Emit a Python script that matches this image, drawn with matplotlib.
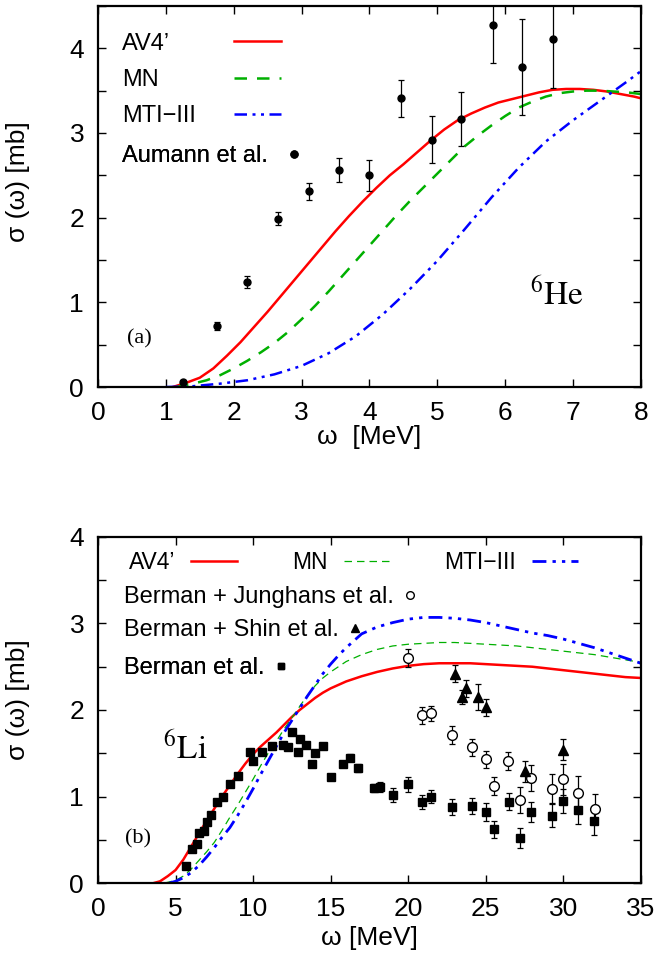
import matplotlib
matplotlib.use("Agg")
import matplotlib.pyplot as plt
from matplotlib.ticker import MultipleLocator
from matplotlib.lines import Line2D

plt.rcParams['font.family'] = ['Liberation Sans', 'DejaVu Sans']
plt.rcParams['mathtext.fontset'] = 'stix'

# ---------------- Panel (a): 6He ----------------
he_av4_x = [1.1, 1.3, 1.5, 1.7, 1.9, 2.1, 2.3, 2.5, 2.7, 2.9, 3.1, 3.3, 3.5, 3.7, 3.9, 4.1, 4.3, 4.5,
            4.7, 4.9, 5.1, 5.3, 5.5, 5.7, 5.9, 6.1, 6.3, 6.5, 6.7, 6.9, 7.1, 7.3, 7.5, 7.7, 7.9, 8.0]
he_av4_y = [0.0, 0.05, 0.11, 0.22, 0.37, 0.53, 0.71, 0.89, 1.08, 1.27, 1.46, 1.65, 1.84, 2.02, 2.19, 2.35, 2.50, 2.63,
            2.77, 2.91, 3.04, 3.15, 3.23, 3.30, 3.36, 3.40, 3.44, 3.48, 3.51, 3.52, 3.52, 3.51, 3.49, 3.46, 3.43, 3.41]
he_mn_x = [1.15, 1.4, 1.6, 1.8, 2.0, 2.2, 2.4, 2.6, 2.8, 3.0, 3.2, 3.4, 3.6, 3.8, 4.0, 4.2, 4.4, 4.6,
           4.8, 5.0, 5.2, 5.4, 5.6, 5.8, 6.0, 6.2, 6.4, 6.6, 6.8, 7.0, 7.2, 7.4, 7.6, 7.8, 8.0]
he_mn_y = [0.0, 0.04, 0.08, 0.14, 0.22, 0.31, 0.41, 0.52, 0.65, 0.80, 0.96, 1.13, 1.31, 1.49, 1.67, 1.85, 2.03, 2.20,
           2.36, 2.52, 2.68, 2.84, 2.97, 3.09, 3.20, 3.30, 3.37, 3.43, 3.47, 3.49, 3.50, 3.50, 3.49, 3.48, 3.46]
he_mti_x = [1.0, 1.4, 1.8, 2.2, 2.6, 3.0, 3.4, 3.8, 4.2, 4.6, 5.0, 5.4, 5.8, 6.2, 6.6, 7.0, 7.4, 7.8, 8.0]
he_mti_y = [0.0, 0.01, 0.04, 0.08, 0.15, 0.25, 0.40, 0.60, 0.86, 1.16, 1.49, 1.86, 2.24, 2.59, 2.90, 3.15, 3.38, 3.61, 3.73]

aumann_x = [1.25, 1.75, 2.19, 2.65, 3.11, 3.55, 4.0, 4.46, 4.92, 5.35, 5.82, 6.25, 6.70]
aumann_y = [0.06, 0.72, 1.24, 1.99, 2.31, 2.56, 2.50, 3.41, 2.92, 3.17, 4.27, 3.78, 4.11]
aumann_e = [0.02, 0.05, 0.07, 0.08, 0.10, 0.14, 0.18, 0.22, 0.28, 0.32, 0.44, 0.57, 0.58]

# ---------------- Panel (b): 6Li ----------------
li_av4_x = [3.6, 4.0, 4.5, 5.0, 5.5, 6.0, 6.5, 7.0, 7.5, 8.0, 8.5, 9.0, 9.5, 10.0, 10.5, 11.0, 11.5, 12.0,
            12.5, 13.0, 13.5, 14.0, 14.5, 15.0, 16.0, 17.0, 18.0, 19.0, 20.0, 21.0, 22.0, 23.0, 24.0, 25.0,
            26.0, 27.0, 28.0, 29.0, 30.0, 31.0, 32.0, 33.0, 34.0, 35.0]
li_av4_y = [0.0, 0.02, 0.08, 0.15, 0.27, 0.42, 0.57, 0.72, 0.86, 1.00, 1.13, 1.26, 1.38, 1.49, 1.58, 1.66, 1.74, 1.83,
            1.92, 2.00, 2.07, 2.14, 2.20, 2.25, 2.33, 2.39, 2.44, 2.48, 2.51, 2.53, 2.54, 2.54, 2.54, 2.53,
            2.52, 2.51, 2.50, 2.48, 2.46, 2.44, 2.42, 2.40, 2.38, 2.37]
li_mn_x = [4.3, 5.0, 5.5, 6.0, 6.5, 7.0, 7.5, 8.0, 8.5, 9.0, 9.5, 10.0, 10.5, 11.0, 11.5, 12.0, 12.5, 13.0,
           13.5, 14.0, 14.5, 15.0, 16.0, 17.0, 18.0, 19.0, 20.0, 21.0, 22.0, 23.0, 24.0, 25.0, 26.0, 27.0,
           28.0, 29.0, 30.0, 31.0, 32.0, 33.0, 34.0, 35.0]
li_mn_y = [0.0, 0.03, 0.08, 0.16, 0.26, 0.36, 0.47, 0.61, 0.76, 0.90, 1.05, 1.20, 1.36, 1.51, 1.64, 1.78, 1.91, 2.04,
           2.17, 2.28, 2.37, 2.44, 2.56, 2.64, 2.70, 2.74, 2.76, 2.77, 2.78, 2.78, 2.77, 2.76, 2.75, 2.74,
           2.72, 2.70, 2.68, 2.66, 2.64, 2.61, 2.58, 2.55]
li_mti_x = [4.6, 5.0, 5.5, 6.0, 6.5, 7.0, 7.5, 8.0, 8.5, 9.0, 9.5, 10.0, 10.5, 11.0, 11.5, 12.0, 12.5, 13.0,
            13.5, 14.0, 14.5, 15.0, 15.5, 16.0, 17.0, 18.0, 19.0, 20.0, 21.0, 22.0, 23.0, 24.0, 25.0, 26.0,
            27.0, 28.0, 29.0, 30.0, 31.0, 32.0, 33.0, 34.0, 35.0]
li_mti_y = [0.0, 0.02, 0.06, 0.12, 0.20, 0.30, 0.41, 0.53, 0.64, 0.78, 0.93, 1.09, 1.26, 1.42, 1.58, 1.74, 1.88, 2.02,
            2.16, 2.29, 2.42, 2.53, 2.63, 2.72, 2.88, 2.96, 3.01, 3.05, 3.07, 3.07, 3.06, 3.04, 3.01, 2.97,
            2.93, 2.89, 2.86, 2.82, 2.77, 2.72, 2.66, 2.60, 2.54]

berman_x = [5.65, 6.04, 6.40, 6.51, 6.86, 7.05, 7.26, 7.65, 8.04, 8.51, 9.05, 9.80, 10.01, 10.55, 11.24,
            11.95, 12.23, 12.53, 12.91, 13.02, 13.41, 13.82, 13.99, 14.49, 15.0, 15.82, 16.25, 16.78,
            17.81, 18.18, 19.04, 20.0, 20.9, 21.5, 22.8, 24.1, 25.0, 25.5, 26.5, 27.2, 27.9, 29.3, 29.96, 30.97, 31.98]
berman_y = [0.20, 0.39, 0.45, 0.58, 0.60, 0.70, 0.79, 0.94, 1.00, 1.14, 1.24, 1.52, 1.41, 1.52, 1.58,
            1.60, 1.57, 1.74, 1.51, 1.66, 1.60, 1.38, 1.50, 1.58, 1.22, 1.38, 1.45, 1.33,
            1.10, 1.11, 1.02, 1.14, 0.94, 1.00, 0.88, 0.89, 0.82, 0.62, 0.94, 0.52, 0.82, 0.78, 0.95, 0.84, 0.72]
berman_e = [0.0, 0.0, 0.0, 0.0, 0.0, 0.0, 0.0, 0.0, 0.0, 0.0, 0.0, 0.0, 0.0, 0.0, 0.0,
            0.0, 0.0, 0.0, 0.0, 0.0, 0.0, 0.0, 0.0, 0.03, 0.0, 0.0, 0.04, 0.05,
            0.05, 0.06, 0.08, 0.09, 0.08, 0.07, 0.09, 0.09, 0.10, 0.10, 0.10, 0.12, 0.12, 0.13, 0.14, 0.16, 0.16]

jung_x = [20.0, 20.9, 21.5, 22.8, 24.1, 25.0, 25.5, 26.45, 27.2, 27.9, 29.25, 29.96, 30.97, 32.04]
jung_y = [2.60, 1.94, 1.96, 1.71, 1.57, 1.43, 1.12, 1.41, 0.96, 1.21, 1.09, 1.20, 1.04, 0.86]
jung_e = [0.10, 0.10, 0.09, 0.10, 0.10, 0.10, 0.10, 0.10, 0.15, 0.15, 0.17, 0.18, 0.20, 0.17]

shin_x = [23.0, 23.5, 23.7, 24.5, 25.0, 27.5, 29.96]
shin_y = [2.42, 2.15, 2.25, 2.15, 2.03, 1.29, 1.54]
shin_e = [0.10, 0.08, 0.10, 0.15, 0.10, 0.12, 0.12]

fig = plt.figure(figsize=(6.6, 9.64), dpi=100)
ax1 = fig.add_axes([0.1485, 0.5985, 0.8225, 0.3953])
ax2 = fig.add_axes([0.1485, 0.084, 0.8225, 0.359])

RED = '#ff0000'
GREEN = '#00b000'
BLUE = '#0000ff'
mti_dash = (5, 2.2, 1.2, 2.2, 1.2, 2.2)
ebkw = dict(elinewidth=0.9, capsize=2.5, capthick=0.9)

# ---------- panel (a) ----------
a1, = ax1.plot(he_av4_x, he_av4_y, color=RED, lw=1.8)
a2, = ax1.plot(he_mn_x, he_mn_y, color=GREEN, lw=1.8, dashes=(5, 4))
a3, = ax1.plot(he_mti_x, he_mti_y, color=BLUE, lw=1.8, dashes=mti_dash)
ax1.errorbar(aumann_x, aumann_y, yerr=aumann_e, fmt='o', color='black', ms=5, **ebkw)
ax1.set_xlim(0, 8)
ax1.set_ylim(0, 4.5)
ax1.xaxis.set_major_locator(MultipleLocator(1))
ax1.yaxis.set_major_locator(MultipleLocator(1))
ax1.yaxis.set_minor_locator(MultipleLocator(0.5))
ax1.set_xlabel("\u03c9  [MeV]", fontsize=19, labelpad=0)
ax1.set_ylabel("\u03c3 (\u03c9) [mb]", fontsize=19)
ax1.yaxis.set_label_coords(-0.125, 0.54)
ax1.text(0.053, 0.115, "(a)", transform=ax1.transAxes, fontsize=16, family='Liberation Serif')
ax1.text(0.795, 0.215, r"$^{6}\mathrm{He}$", transform=ax1.transAxes, fontsize=24)

labels_a = ["AV4\u2019", "MN", "MTI\u2212III"]
blank = [Line2D([], [], alpha=0) for _ in labels_a]
legkw = dict(frameon=False, fontsize=17, labelspacing=0.6, borderpad=0.0, borderaxespad=0.0)
lt = ax1.legend(blank, labels_a, loc='upper left', bbox_to_anchor=(0.044, 0.93),
                handlelength=0, handletextpad=0, **legkw)
ax1.add_artist(lt)
lh = ax1.legend([a1, a2, a3], [" "] * 3, loc='upper left', bbox_to_anchor=(0.25, 0.93),
                handlelength=2.0, handletextpad=0, **legkw)
ax1.add_artist(lh)
dot = Line2D([], [], ls='none', marker='o', color='black', ms=5)
la = ax1.legend([dot], ["Aumann et al."], loc='upper left', bbox_to_anchor=(0.044, 0.635),
                markerfirst=False, handlelength=0.8, handletextpad=0.7, **legkw)
ax1.add_artist(la)

# ---------- panel (b) ----------
l1, = ax2.plot(li_av4_x, li_av4_y, color=RED, lw=1.8, label="AV4\u2019")
l2, = ax2.plot(li_mn_x, li_mn_y, color=GREEN, lw=0.9, dashes=(6, 4), label="MN")
l3, = ax2.plot(li_mti_x, li_mti_y, color=BLUE, lw=2.0, dashes=mti_dash, label="MTI\u2212III")
ax2.errorbar(jung_x, jung_y, yerr=jung_e, fmt='o', mfc='white', mec='black', color='black', ms=7, **ebkw)
ax2.errorbar(shin_x, shin_y, yerr=shin_e, fmt='^', color='black', ms=6.5, **ebkw)
ax2.errorbar(berman_x, berman_y, yerr=berman_e, fmt='s', color='black', ms=5.5, **ebkw)
ax2.set_xlim(0, 35)
ax2.set_ylim(0, 4)
ax2.xaxis.set_major_locator(MultipleLocator(5))
ax2.yaxis.set_major_locator(MultipleLocator(1))
ax2.yaxis.set_minor_locator(MultipleLocator(0.5))
ax2.set_xlabel("\u03c9 [MeV]", fontsize=19, labelpad=4)
ax2.set_ylabel("\u03c3 (\u03c9) [mb]", fontsize=19)
ax2.yaxis.set_label_coords(-0.125, 0.53)
ax2.text(0.05, 0.115, "(b)", transform=ax2.transAxes, fontsize=16, family='Liberation Serif')
ax2.text(0.12, 0.36, r"$^{6}\mathrm{Li}$", transform=ax2.transAxes, fontsize=24)

lg = ax2.legend(handles=[l1, l2, l3], loc='upper left', bbox_to_anchor=(0.04, 0.985), ncol=3,
                frameon=False, markerfirst=False, fontsize=16.5, handlelength=2.0,
                handletextpad=0.7, columnspacing=2.4, borderaxespad=0.0)
ax2.add_artist(lg)
m_open = Line2D([], [], ls='none', marker='o', mfc='white', mec='black', ms=5.5)
m_tri = Line2D([], [], ls='none', marker='^', color='black', ms=5.5)
m_sq = Line2D([], [], ls='none', marker='s', color='black', ms=4.5)
mark_labels = ["Berman + Junghans et al.", "Berman + Shin et al.", "Berman et al."]
ypos = [0.885, 0.79, 0.68]
for h, lab, yy in zip([m_open, m_tri, m_sq], mark_labels, ypos):
    lgx = ax2.legend([h], [lab], loc='upper left', bbox_to_anchor=(0.03, yy), frameon=False,
                     markerfirst=False, fontsize=17, handlelength=0.8, handletextpad=0.3,
                     borderaxespad=0.0)
    ax2.add_artist(lgx)

for ax in (ax1, ax2):
    ax.tick_params(which='both', direction='in', top=True, right=True, length=6, width=1.0,
                   labelsize=19, pad=10)
    for s in ax.spines.values():
        s.set_linewidth(1.6)

fig.savefig("out.png", dpi=100)
